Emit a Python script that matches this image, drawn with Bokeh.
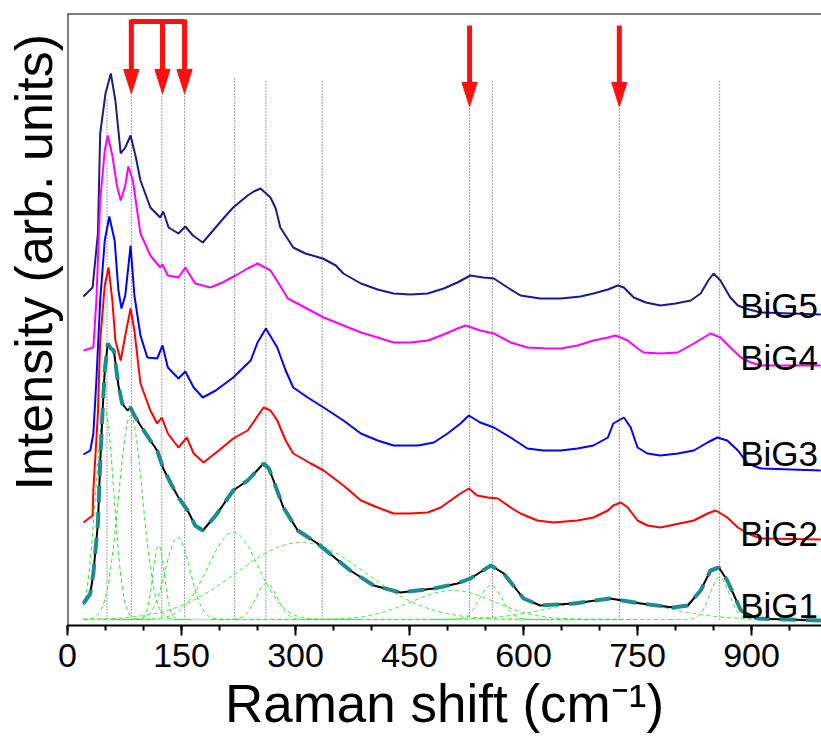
import numpy as np
from bokeh.plotting import figure
from bokeh.models import Span, Range1d, SingleIntervalTicker, ColumnDataSource, Title
from bokeh.embed import file_html
from bokeh.resources import INLINE
from bokeh.core.properties import value

# ---------------- data ----------------
big5_x = [21, 33, 40, 43, 50, 57, 63, 70, 76, 83, 90, 96, 109, 122, 126, 133, 146, 155, 165, 178,
          205, 218, 237, 245, 254, 267, 274, 280, 297, 313, 336, 353, 363, 386, 408, 429, 451, 474,
          495, 513, 530, 547, 561, 579, 596, 622, 649, 675, 692, 711, 724, 732, 745, 761, 780, 800,
          820, 833, 843, 850, 859, 872, 882, 892, 912, 991]
big5_y = [329, 338, 392, 492, 532, 552, 525, 472, 478, 490, 468, 445, 418, 408, 414, 398, 392, 399,
          390, 383, 407, 418, 430, 434, 437, 428, 417, 398, 378, 372, 367, 360, 352, 342, 336, 332,
          331, 332, 337, 343, 350, 348, 347, 338, 330, 327, 327, 329, 332, 336, 340, 338, 328, 323,
          320, 322, 325, 332, 345, 352, 345, 328, 320, 317, 313, 311]

big4_x = [21, 34, 38, 43, 49, 53, 59, 65, 70, 76, 80, 86, 96, 109, 122, 125, 132, 146, 155, 168,
          188, 204, 221, 237, 250, 267, 278, 290, 337, 386, 408, 429, 451, 474, 495, 513, 524, 543,
          561, 583, 605, 632, 649, 671, 692, 711, 721, 737, 750, 758, 780, 803, 824, 846, 859, 872,
          886, 899, 912, 991]
big4_y = [275, 278, 325, 425, 475, 490, 470, 440, 425, 440, 459, 445, 392, 370, 358, 361, 350, 348,
          358, 342, 338, 343, 350, 357, 362, 355, 342, 327, 308, 293, 288, 283, 283, 285, 291, 297,
          300, 295, 292, 283, 278, 277, 277, 280, 285, 288, 290, 285, 277, 273, 272, 273, 282, 292,
          288, 278, 268, 263, 260, 260]

big3_x = [21, 30, 34, 38, 43, 49, 55, 62, 67, 71, 76, 83, 88, 96, 105, 118, 125, 132, 146, 155,
          166, 178, 195, 218, 241, 250, 261, 276, 287, 297, 316, 337, 363, 386, 408, 429, 461, 482,
          500, 517, 528, 543, 561, 583, 605, 626, 649, 671, 692, 711, 718, 732, 741, 750, 763, 780,
          803, 824, 842, 855, 868, 882, 895, 912, 991]
big3_y = [171, 175, 192, 245, 325, 385, 409, 385, 335, 317, 330, 380, 330, 290, 268, 267, 280, 258,
          247, 254, 238, 228, 235, 248, 265, 283, 297, 278, 255, 238, 228, 218, 205, 192, 185, 180,
          180, 183, 192, 202, 210, 203, 198, 188, 177, 175, 175, 177, 180, 188, 202, 208, 198, 178,
          172, 170, 172, 175, 183, 188, 185, 175, 162, 157, 155]

big2_x = [21, 33, 34, 40, 43, 49, 54, 59, 63, 70, 76, 83, 88, 96, 109, 118, 124, 132, 146, 157,
          166, 179, 199, 218, 237, 258, 267, 276, 287, 297, 320, 337, 363, 386, 408, 429, 451, 474,
          491, 504, 517, 528, 539, 553, 566, 583, 596, 618, 639, 671, 692, 711, 718, 728, 737, 750,
          763, 780, 824, 842, 853, 868, 882, 895, 912, 991]
big2_y = [103, 110, 135, 212, 285, 340, 358, 325, 285, 265, 290, 317, 295, 242, 215, 202, 208, 192,
          178, 188, 172, 163, 175, 187, 195, 218, 215, 205, 185, 172, 162, 155, 140, 125, 118, 112,
          112, 113, 118, 125, 132, 137, 130, 128, 127, 118, 112, 105, 103, 105, 108, 115, 120, 123,
          118, 105, 100, 98, 105, 112, 115, 108, 98, 92, 87, 86]

big1_x = [21, 30, 34, 40, 43, 46, 49, 53, 57, 61, 67, 72, 79, 83, 88, 96, 109, 118, 126, 136,
          146, 158, 168, 178, 195, 218, 237, 258, 265, 271, 284, 303, 329, 372, 403, 438, 482, 513,
          530, 557, 574, 600, 622, 666, 714, 754, 797, 816, 833, 846, 857, 868, 886, 908, 991]
big1_y = [22, 32, 52, 102, 162, 212, 255, 282, 277, 275, 240, 222, 215, 218, 210, 200, 185, 175,
          157, 142, 128, 115, 100, 95, 110, 135, 145, 162, 157, 145, 118, 95, 82, 55, 40, 33, 37,
          42, 47, 60, 52, 27, 20, 22, 27, 22, 18, 20, 35, 55, 58, 45, 15, 7, 5]

# fitted components of BiG1 (centre, height, FWHM)
comp_center = [49, 83, 120, 145, 218, 262, 307, 507, 557, 712, 858]
comp_height = [211, 204, 74, 82, 87, 36, 77, 29, 34, 20, 42]
comp_fwhm = [28, 37, 18, 38, 78, 33, 200, 130, 35, 170, 30]
fit_baseline = 6

# marked band positions
band_x = [52, 84, 124, 154, 220, 261, 335, 529, 559, 726, 858]
band_top = [528, 532, 532, 532, 548, 545, 545, 520, 545, 518, 545]
bracket_arrow_x = [84, 125, 154]
single_arrow_x = [529, 726]

sample_names = ["BiG5", "BiG4", "BiG3", "BiG2", "BiG1"]
sample_label_y = [320, 268, 172, 92, 20]
sample_label_x = [885, 885, 885, 885, 885]

x_start, x_end = 0, 992
y_start, y_end = 0, 612

# ---------------- figure ----------------
p = figure(width=821, height=740, x_range=Range1d(x_start, x_end), y_range=Range1d(y_start, y_end),
           output_backend="svg", toolbar_location=None,
           min_border_left=67, min_border_right=0, min_border_top=13, min_border_bottom=115)
p.outline_line_color = None
p.xgrid.visible = False
p.ygrid.visible = False
p.background_fill_color = "white"
p.border_fill_color = "white"
p.yaxis.visible = False

FONT = "Liberation Sans"

xa = p.xaxis[0]
xa.ticker = SingleIntervalTicker(interval=150, num_minor_ticks=3)
xa.axis_line_width = 2
xa.major_tick_line_width = 2
xa.minor_tick_line_width = 2
xa.major_tick_in = 0
xa.major_tick_out = 10
xa.minor_tick_in = 0
xa.minor_tick_out = 5
xa.major_label_text_font = FONT
xa.major_label_text_font_size = "34px"
xa.major_label_text_color = "black"
xa.major_label_standoff = 8
xa.axis_label = "Raman shift (cm\u207b\u00b9)"
xa.axis_label_text_font = FONT
xa.axis_label_text_font_size = "53px"
xa.axis_label_text_font_style = "normal"
xa.axis_label_text_color = "black"
xa.axis_label_standoff = 4

p.add_layout(Title(text="Intensity (arb. units)", align="left", offset=135, standoff=5,
                   vertical_align="top",
                   text_font=FONT, text_font_size="52px", text_font_style="normal",
                   text_color="black"), "left")

p.add_layout(Span(location=y_end, dimension="width", line_color="black", line_width=2))
p.add_layout(Span(location=x_start, dimension="height", line_color="black", line_width=2))

# dotted band markers
p.segment(x0=band_x, y0=[fit_baseline] * len(band_x), x1=band_x, y1=band_top,
          line_color="#444444", line_width=1, line_dash="1 2")

# fit baseline
p.line([big1_x[0], 730], [fit_baseline, fit_baseline], line_color="#c6f2c6", line_width=2)

# fitted components
for c, h, w in zip(comp_center, comp_height, comp_fwhm):
    xs = np.arange(max(big1_x[0], c - 2.2 * w), min(x_end, c + 2.2 * w), 1.0)
    ys = fit_baseline + h * np.exp(-4 * np.log(2) * (xs - c) ** 2 / w ** 2)
    p.line(xs, ys, line_color="#2ee02e", line_width=1, line_dash="4 3")

# spectra
p.line(big5_x, big5_y, line_color="#1a1a90", line_width=2)
p.line(big4_x, big4_y, line_color="#ff00ff", line_width=2)
p.line(big3_x, big3_y, line_color="#0000ff", line_width=2)
p.line(big2_x, big2_y, line_color="#ff0000", line_width=2)
p.line(big1_x, big1_y, line_color="black", line_width=2)
p.line(big1_x, big1_y, line_color="#1f8c8c", line_width=4, line_dash="16 10")

# arrows
RED = "#ff1010"
bar_y, tip_y, head_len, head_half = 604, 532, 24, 10
p.line([bracket_arrow_x[0], bracket_arrow_x[-1]], [bar_y, bar_y], line_color=RED, line_width=5)
p.segment(x0=bracket_arrow_x, y0=[bar_y + 2] * 3, x1=bracket_arrow_x, y1=[tip_y + head_len] * 3,
          line_color=RED, line_width=5)
p.patches([[x - head_half, x + head_half, x] for x in bracket_arrow_x],
          [[tip_y + head_len, tip_y + head_len, tip_y] for _ in bracket_arrow_x],
          fill_color=RED, line_color=RED)

s_top, s_tip = 600, 519
p.segment(x0=single_arrow_x, y0=[s_top] * 2, x1=single_arrow_x, y1=[s_tip + head_len] * 2,
          line_color=RED, line_width=5)
p.patches([[x - head_half, x + head_half, x] for x in single_arrow_x],
          [[s_tip + head_len, s_tip + head_len, s_tip] for _ in single_arrow_x],
          fill_color=RED, line_color=RED)

# sample labels
src = ColumnDataSource(dict(x=sample_label_x, y=sample_label_y, t=sample_names))
p.text(x="x", y="y", text="t", source=src, text_font=value(FONT), text_font_size="35px",
       text_baseline="alphabetic", text_align="left", text_color="black")

open("out.html", "w").write(file_html(p, INLINE))
